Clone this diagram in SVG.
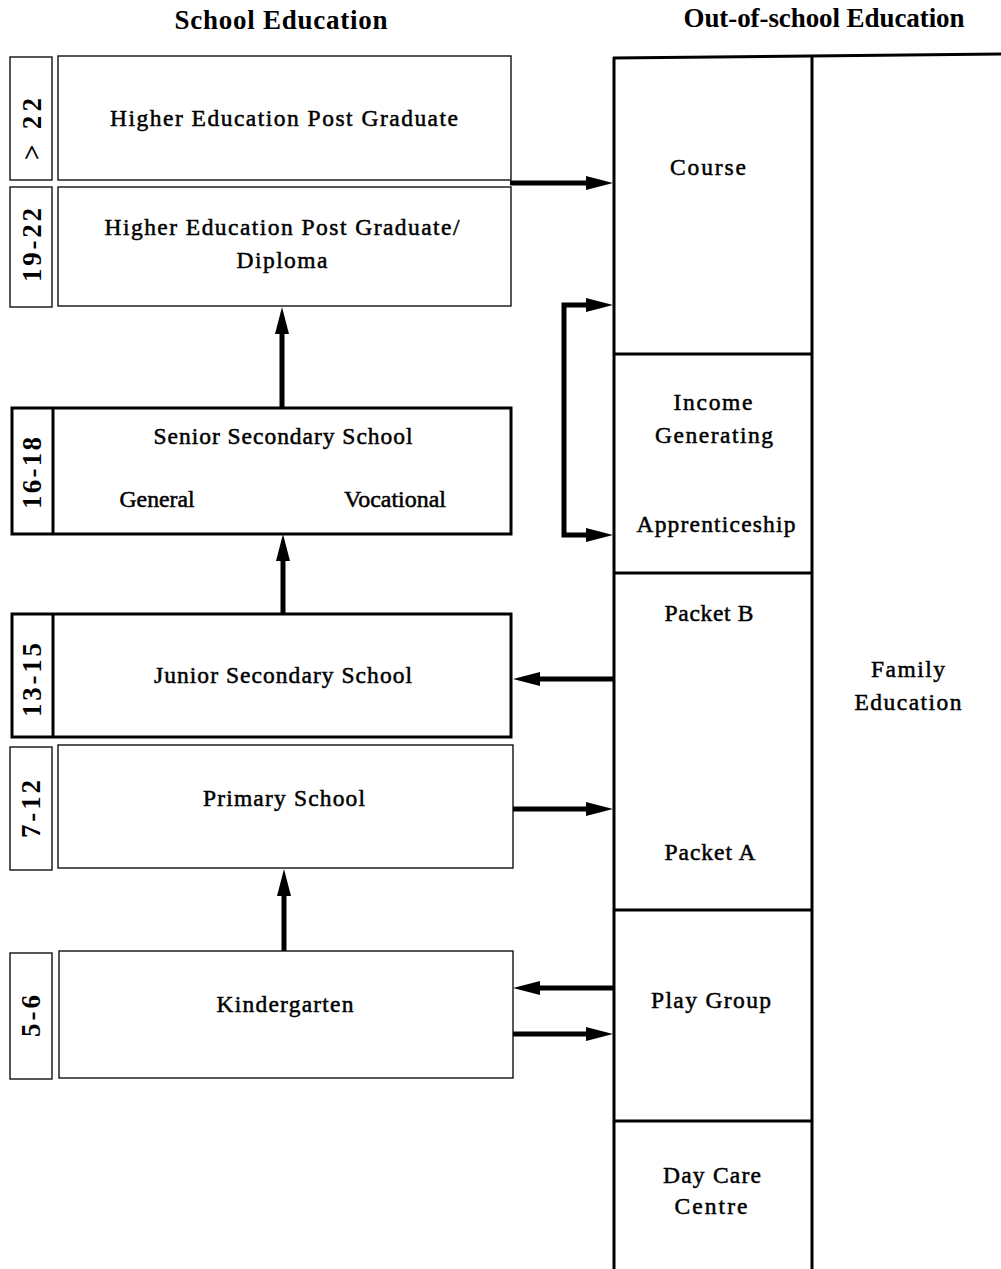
<svg xmlns="http://www.w3.org/2000/svg" width="1001" height="1269" viewBox="0 0 1001 1269">
  <style>
    .title { font-family: "Liberation Serif", "Times New Roman", serif; font-weight: bold; font-size: 27px; fill: #000; }
    .lbl { font-family: "Liberation Serif", "Times New Roman", serif; font-size: 23.5px; fill: #000; stroke: #000; stroke-width: 0.5; text-anchor: middle; }
    .age { font-family: "Liberation Serif", "Times New Roman", serif; font-weight: bold; font-size: 27px; fill: #000; text-anchor: middle; }
    .thin { fill: #fff; stroke: #111; stroke-width: 1.4; }
    .thick { fill: #fff; stroke: #000; stroke-width: 3; }
    .frame { fill: none; stroke: #000; stroke-width: 3; }
    .conn { fill: none; stroke: #000; stroke-width: 5; }
  </style>
  <defs>
    <marker id="ah" markerUnits="userSpaceOnUse" orient="auto-start-reverse" overflow="visible" refX="0" refY="0" markerWidth="1" markerHeight="1">
      <path d="M-2,-7 L25,0 L-2,7 z" fill="#000"/>
    </marker>
  </defs>

  <rect width="1001" height="1269" fill="#fff"/>

  <!-- column headings -->
  <text class="title" x="281" y="29" text-anchor="middle" textLength="213" lengthAdjust="spacing">School Education</text>
  <text class="title" x="824" y="27" text-anchor="middle" textLength="281" lengthAdjust="spacing">Out-of-school Education</text>

  <!-- school education -->
  <g id="higher-post-graduate">
    <rect class="thin" x="10" y="57" width="42" height="123"/>
    <rect class="thin" x="58" y="56" width="453" height="124"/>
    <text class="age" transform="translate(32,129) rotate(-90)" y="9" textLength="62" lengthAdjust="spacing">&gt; 22</text>
    <text class="lbl" x="284" y="126" textLength="348" lengthAdjust="spacing">Higher Education Post Graduate</text>
  </g>

  <g id="higher-diploma">
    <rect class="thin" x="10" y="187" width="42" height="120"/>
    <rect class="thin" x="58" y="187" width="453" height="119"/>
    <text class="age" transform="translate(32,245) rotate(-90)" y="9" textLength="74" lengthAdjust="spacing">19-22</text>
    <text class="lbl" x="282" y="235" textLength="355" lengthAdjust="spacing">Higher Education Post Graduate/</text>
    <text class="lbl" x="282" y="268" textLength="91" lengthAdjust="spacing">Diploma</text>
  </g>

  <g id="senior-secondary">
    <rect class="thick" x="12" y="408" width="499" height="126"/>
    <line x1="53" y1="408" x2="53" y2="534" stroke="#000" stroke-width="3"/>
    <text class="age" transform="translate(32,473) rotate(-90)" y="9" textLength="72" lengthAdjust="spacing">16-18</text>
    <text class="lbl" x="283" y="444" textLength="259" lengthAdjust="spacing">Senior Secondary School</text>
    <text class="lbl" x="157" y="507" textLength="75" lengthAdjust="spacingAndGlyphs">General</text>
    <text class="lbl" x="395" y="507" textLength="102" lengthAdjust="spacingAndGlyphs">Vocational</text>
  </g>

  <g id="junior-secondary">
    <rect class="thick" x="12" y="614" width="499" height="123"/>
    <line x1="53" y1="614" x2="53" y2="737" stroke="#000" stroke-width="3"/>
    <text class="age" transform="translate(32,680) rotate(-90)" y="9" textLength="74" lengthAdjust="spacing">13-15</text>
    <text class="lbl" x="283" y="683" textLength="258" lengthAdjust="spacing">Junior Secondary School</text>
  </g>

  <g id="primary">
    <rect class="thin" x="10" y="747" width="42" height="123"/>
    <rect class="thin" x="58" y="745" width="455" height="123"/>
    <text class="age" transform="translate(31,809) rotate(-90)" y="9" textLength="58" lengthAdjust="spacing">7-12</text>
    <text class="lbl" x="284" y="806" textLength="162" lengthAdjust="spacing">Primary School</text>
  </g>

  <g id="kindergarten">
    <rect class="thin" x="10" y="953" width="42" height="126"/>
    <rect class="thin" x="59" y="951" width="454" height="127"/>
    <text class="age" transform="translate(31,1016) rotate(-90)" y="9" textLength="42" lengthAdjust="spacing">5-6</text>
    <text class="lbl" x="285" y="1012" textLength="137" lengthAdjust="spacing">Kindergarten</text>
  </g>

  <!-- out-of-school education frame -->
  <g id="out-of-school-frame">
    <line class="frame" x1="613" y1="58" x2="1001" y2="54"/>
    <line class="frame" x1="614" y1="57" x2="614" y2="1269"/>
    <line class="frame" x1="812" y1="56" x2="812" y2="1269"/>
  </g>

  <g id="course">
    <text class="lbl" x="708" y="175" textLength="76" lengthAdjust="spacing">Course</text>
  </g>

  <g id="income-apprenticeship">
    <line class="frame" x1="614" y1="354" x2="812" y2="354"/>
    <text class="lbl" x="713" y="410" textLength="79" lengthAdjust="spacing">Income</text>
    <text class="lbl" x="714" y="443" textLength="118" lengthAdjust="spacing">Generating</text>
    <text class="lbl" x="716" y="532" textLength="159" lengthAdjust="spacing">Apprenticeship</text>
  </g>

  <g id="packets">
    <line class="frame" x1="614" y1="573" x2="812" y2="573"/>
    <text class="lbl" x="709" y="621" textLength="89" lengthAdjust="spacing">Packet B</text>
    <text class="lbl" x="710" y="860" textLength="91" lengthAdjust="spacing">Packet A</text>
  </g>

  <g id="play-group">
    <line class="frame" x1="614" y1="910" x2="812" y2="910"/>
    <text class="lbl" x="711" y="1008" textLength="120" lengthAdjust="spacing">Play Group</text>
  </g>

  <g id="day-care">
    <line class="frame" x1="614" y1="1121" x2="812" y2="1121"/>
    <text class="lbl" x="712" y="1183" textLength="98" lengthAdjust="spacing">Day Care</text>
    <text class="lbl" x="711" y="1214" textLength="73" lengthAdjust="spacing">Centre</text>
  </g>

  <g id="family-education">
    <text class="lbl" x="908" y="677" textLength="74" lengthAdjust="spacing">Family</text>
    <text class="lbl" x="908" y="710" textLength="107" lengthAdjust="spacing">Education</text>
  </g>

  <!-- connectors -->
  <g id="connectors">
    <path class="conn" d="M510,183 H588" marker-end="url(#ah)"/>
    <path class="conn" d="M588,305 H564 V535 H588" marker-start="url(#ah)" marker-end="url(#ah)"/>
    <path class="conn" d="M613,679 H538" marker-end="url(#ah)"/>
    <path class="conn" d="M513,809 H588" marker-end="url(#ah)"/>
    <path class="conn" d="M613,988 H538" marker-end="url(#ah)"/>
    <path class="conn" d="M513,1034 H588" marker-end="url(#ah)"/>
    <path class="conn" d="M284,951 V894" marker-end="url(#ah)"/>
    <path class="conn" d="M283,613 V559" marker-end="url(#ah)"/>
    <path class="conn" d="M282,407 V332" marker-end="url(#ah)"/>
  </g>
</svg>
